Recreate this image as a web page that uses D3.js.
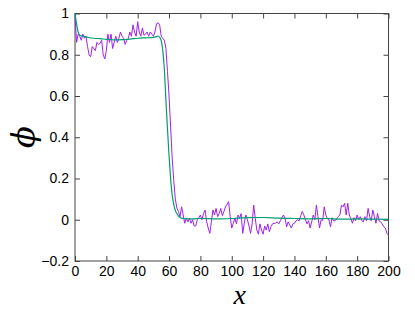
<!DOCTYPE html>
<html>
<head>
<meta charset="utf-8">
<script src="https://cdn.jsdelivr.net/npm/d3@7"></script>
<style>
  body { margin: 0; background: #fff; }
  .tick text { font-family: "Liberation Sans", Arial, sans-serif; font-size: 14px; fill: #000; }
</style>
</head>
<body>
<div id="chart"></div>
<script>
// noisy profile, one value per x = 0..200
const noisyPhi = [
  0.99, 0.86, 0.90, 0.89, 0.87, 0.90, 0.88, 0.89, 0.84, 0.80,
  0.79, 0.84, 0.83, 0.82, 0.86, 0.85, 0.855, 0.87, 0.80, 0.78,
  0.82, 0.90, 0.86, 0.90, 0.83, 0.86, 0.89, 0.86, 0.88, 0.91,
  0.89, 0.88, 0.85, 0.87, 0.88, 0.91, 0.89, 0.945, 0.91, 0.89,
  0.96, 0.91, 0.89, 0.93, 0.895, 0.90, 0.91, 0.89, 0.91, 0.90,
  0.89, 0.91, 0.95, 0.955, 0.945, 0.89, 0.88, 0.87, 0.83, 0.72,
  0.60, 0.45, 0.30, 0.19, 0.10, 0.057, 0.04, 0.015, 0.063, 0.023,
  -0.017, 0.007, -0.01, 0.007, -0.017, 0.0, -0.03, -0.03, 0.0, 0.01,
  0.023, 0.0, 0.03, 0.047, -0.01, -0.04, -0.066, -0.01, 0.047, 0.023,
  0.055, 0.015, 0.03, 0.055, 0.02, 0.04, 0.063, 0.075, 0.088, 0.015,
  -0.04, -0.017, 0.007, -0.02, 0.023, 0.007, 0.03, -0.066, -0.017, 0.023,
  0.0, -0.03, -0.066, -0.02, 0.071, 0.007, -0.05, -0.07, -0.02, -0.05,
  -0.07, -0.03, -0.05, -0.02, -0.058, -0.034, -0.02, -0.017, -0.017, -0.01,
  -0.02, -0.005, 0.01, 0.023, 0.007, -0.034, -0.01, -0.025, -0.04, -0.02,
  -0.017, -0.005, 0.0, -0.005, 0.02, 0.04, 0.023, 0.0, -0.02, -0.005,
  -0.04, -0.01, 0.023, 0.0, 0.071, 0.015, -0.04, 0.0, -0.005, 0.063,
  0.023, 0.005, 0.0, -0.034, 0.01, -0.005, -0.005, 0.005, 0.015, 0.023,
  0.071, 0.063, 0.08, 0.023, 0.08, 0.023, 0.005, -0.017, 0.01, -0.005,
  0.023, 0.0, 0.015, -0.005, -0.01, 0.015, -0.005, 0.055, 0.015, -0.005,
  0.047, 0.015, -0.017, 0.03, -0.005, -0.01, -0.02, -0.034, -0.04, -0.066,
  -0.075
];

// smooth profile
const smoothX = [0, 1, 2, 3, 5, 8, 12, 16, 20, 25, 30, 35, 40, 45, 50, 52, 53, 54, 55, 56,
  57, 58, 59, 60, 61, 62, 63, 64, 65, 66, 68, 70, 75, 80, 90, 100, 110, 120, 130, 140,
  150, 160, 170, 180, 190, 200];
const smoothPhi = [1.0, 0.95, 0.91, 0.895, 0.89, 0.885, 0.88, 0.878, 0.875, 0.872, 0.873, 0.876, 0.88, 0.882, 0.884, 0.888, 0.891, 0.885, 0.868, 0.82,
  0.73, 0.58, 0.44, 0.31, 0.20, 0.12, 0.075, 0.045, 0.03, 0.018, 0.008, 0.005, 0.004, 0.006, 0.004, 0.006, 0.01, 0.011, 0.008, 0.006,
  0.004, 0.006, 0.003, 0.004, 0.003, 0.002];

const xTicks = [0, 20, 40, 60, 80, 100, 120, 140, 160, 180, 200];
const yTicks = [-0.2, 0, 0.2, 0.4, 0.6, 0.8, 1];

const width = 415, height = 312;
const margin = { left: 75, right: 26.5, top: 13.5, bottom: 51 };
const innerW = width - margin.left - margin.right;
const innerH = height - margin.top - margin.bottom;

const svg = d3.select("#chart").append("svg")
  .attr("width", width)
  .attr("height", height);

const g = svg.append("g")
  .attr("transform", `translate(${margin.left},${margin.top})`);

const x = d3.scaleLinear().domain([0, 200]).range([0, innerW]);
const y = d3.scaleLinear().domain([-0.2, 1]).range([innerH, 0]);

// bottom axis with labels, inward ticks
const xAxis = g.append("g")
  .attr("transform", `translate(0,${innerH})`)
  .call(d3.axisBottom(x).tickValues(xTicks).tickSize(-5).tickPadding(5).tickFormat(d3.format("d")));
const yAxis = g.append("g")
  .call(d3.axisLeft(y).tickValues(yTicks).tickSize(-5).tickPadding(6).tickFormat(d => d === 0 ? "0" : d3.format("")(+d.toFixed(1))));
// mirrored ticks
const xTop = g.append("g")
  .call(d3.axisTop(x).tickValues(xTicks).tickSize(-5).tickFormat(""));
const yRight = g.append("g")
  .attr("transform", `translate(${innerW},0)`)
  .call(d3.axisRight(y).tickValues(yTicks).tickSize(-5).tickFormat(""));

[xAxis, yAxis, xTop, yRight].forEach(a => {
  a.select(".domain").remove();
  a.selectAll(".tick line").attr("stroke", "#444");
});

// frame
g.append("rect")
  .attr("width", innerW)
  .attr("height", innerH)
  .attr("fill", "none")
  .attr("stroke", "#444")
  .attr("stroke-width", 1);

const noisyLine = d3.line()
  .x((d, i) => x(i))
  .y(d => y(d));

g.append("path")
  .datum(noisyPhi)
  .attr("fill", "none")
  .attr("stroke", "#a020f0")
  .attr("stroke-width", 1)
  .attr("d", noisyLine);

const smoothLine = d3.line()
  .x((d, i) => x(smoothX[i]))
  .y(d => y(d))
  .curve(d3.curveMonotoneX);

g.append("path")
  .datum(smoothPhi)
  .attr("fill", "none")
  .attr("stroke", "#009e73")
  .attr("stroke-width", 1.2)
  .attr("d", smoothLine);

// axis titles
svg.append("text")
  .attr("x", margin.left + innerW / 2 + 8)
  .attr("y", 304)
  .attr("text-anchor", "middle")
  .attr("font-family", "Liberation Serif")
  .attr("font-style", "italic")
  .attr("font-size", 28)
  .text("x");

svg.append("text")
  .attr("transform", `translate(34,137) rotate(-90)`)
  .attr("text-anchor", "middle")
  .attr("font-family", "DejaVu Serif")
  .attr("font-style", "italic")
  .attr("font-size", 32)
  .text("ϕ");
</script>
</body>
</html>
